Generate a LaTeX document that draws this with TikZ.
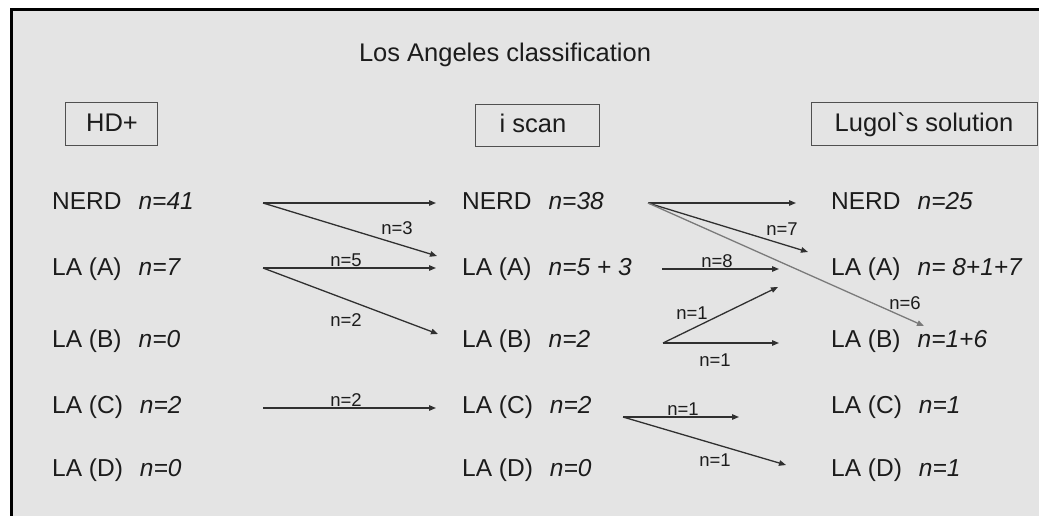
\documentclass[tikz,border=0pt]{standalone}
\usepackage{fontspec}
\setmainfont{Liberation Sans}
\newfontfamily\plainf{Liberation Sans}
\usetikzlibrary{arrows.meta}
\definecolor{bgc}{HTML}{E4E4E4}
\definecolor{txt}{HTML}{1C1C1C}
\definecolor{ln}{HTML}{303030}
\definecolor{lnl}{HTML}{7A7A7A}
\definecolor{bx}{HTML}{505050}
\newcommand\gapx{\hspace{17pt}}
\tikzset{
  rowtxt/.style={anchor=base west, inner sep=0pt, text=txt, font=\fontsize{24.5}{28}\selectfont},
  titletxt/.style={anchor=base, inner sep=0pt, text=txt, font=\fontsize{25.5}{30}\selectfont},
  headbox/.style={draw=bx, line width=1pt, inner sep=0pt},
  headtxt/.style={anchor=base, inner sep=0pt, text=txt, font=\fontsize{25.5}{28}\selectfont},
  lbl/.style={inner sep=0pt, text=txt, font=\fontsize{18.5}{20}\selectfont},
  flow/.style={draw=ln, line width=1.3pt, -{Triangle[length=7pt,width=5.5pt]}},
  flowlight/.style={draw=lnl, line width=1.3pt, -{Triangle[length=7pt,width=5.5pt]}, color=lnl},
}
\begin{document}
\begin{tikzpicture}[x=1pt,y=-1pt]
\useasboundingbox (0,0) rectangle (1039,516);
\fill[white] (0,0) rectangle (1039,516);
\fill[bgc] (10,8) rectangle (1039,516);
\draw[black, line width=3pt] (11.5,516) -- (11.5,9.5) -- (1039,9.5);

% title
\node[titletxt] (title) at (505,62) {Los Angeles classification};

% header boxes
\node[headbox, minimum width=92pt, minimum height=43pt] (bHD) at (111,124.5) {};
\node[headtxt] (tHD) at (112,132) {HD+};
\node[headbox, minimum width=124pt, minimum height=42pt] (bIS) at (537,126) {};
\node[headtxt] (tIS) at (533,133) {i scan};
\node[headbox, minimum width=226pt, minimum height=43pt] (bLU) at (924,124.5) {};
\node[headtxt] (tLU) at (924,132) {\plainf Lugol`s solution};

% left column
\node[rowtxt] (L1) at (52,209) {NERD\gapx\textit{n=41}};
\node[rowtxt] (L2) at (52,275) {LA (A)\gapx\textit{n=7}};
\node[rowtxt] (L3) at (52,347) {LA (B)\gapx\textit{n=0}};
\node[rowtxt] (L4) at (52,413) {LA (C)\gapx\textit{n=2}};
\node[rowtxt] (L5) at (52,476) {LA (D)\gapx\textit{n=0}};

% middle column
\node[rowtxt] (M1) at (462,209) {NERD\gapx\textit{n=38}};
\node[rowtxt] (M2) at (462,275) {LA (A)\gapx\textit{n=5 + 3}};
\node[rowtxt] (M3) at (462,347) {LA (B)\gapx\textit{n=2}};
\node[rowtxt] (M4) at (462,413) {LA (C)\gapx\textit{n=2}};
\node[rowtxt] (M5) at (462,476) {LA (D)\gapx\textit{n=0}};

% right column
\node[rowtxt] (R1) at (831,209) {NERD\gapx\textit{n=25}};
\node[rowtxt] (R2) at (831,275) {LA (A)\gapx\textit{n= 8+1+7}};
\node[rowtxt] (R3) at (831,347) {LA (B)\gapx\textit{n=1+6}};
\node[rowtxt] (R4) at (831,413) {LA (C)\gapx\textit{n=1}};
\node[rowtxt] (R5) at (831,476) {LA (D)\gapx\textit{n=1}};

% connector coordinates
\coordinate (s1) at (263,203);
\coordinate (e1) at (436,203);
\coordinate (e1b) at (437,256);
\coordinate (s2) at (263,268);
\coordinate (e2) at (436,268);
\coordinate (e2b) at (438,334);
\coordinate (s4) at (263,408);
\coordinate (e4) at (436,408);

\coordinate (t1) at (648,203);
\coordinate (f1) at (796,203);
\coordinate (f1b) at (808,252);
\coordinate (f1c) at (924,326);
\coordinate (t2) at (662,269);
\coordinate (f2) at (779,269);
\coordinate (t3) at (663,343);
\coordinate (f3a) at (778,287);
\coordinate (f3) at (779,343);
\coordinate (t4) at (623,417);
\coordinate (f4) at (739,417);
\coordinate (f4b) at (786,465);

% connectors
\draw[flow] (s1) -- (e1);
\draw[flow] (s1) -- (e1b);
\draw[flow] (s2) -- (e2);
\draw[flow] (s2) -- (e2b);
\draw[flow] (s4) -- (e4);

\draw[flow] (t1) -- (f1);
\draw[flow] (t1) -- (f1b);
\draw[flowlight] (t1) -- (f1c);
\draw[flow] (t2) -- (f2);
\draw[flow] (t3) -- (f3a);
\draw[flow] (t3) -- (f3);
\draw[flow] (t4) -- (f4);
\draw[flow] (t4) -- (f4b);

% labels
\node[lbl] (n3) at (397,228) {n=3};
\node[lbl] (n5) at (346,260) {n=5};
\node[lbl] (n2a) at (346,320) {n=2};
\node[lbl] (n2b) at (346,400) {n=2};
\node[lbl] (n7) at (782,229) {n=7};
\node[lbl] (n8) at (717,261) {n=8};
\node[lbl] (n6) at (905,303) {n=6};
\node[lbl] (n1a) at (692,313) {n=1};
\node[lbl] (n1b) at (715,360) {n=1};
\node[lbl] (n1c) at (683,409) {n=1};
\node[lbl] (n1d) at (715,460) {n=1};
\end{tikzpicture}
\end{document}
